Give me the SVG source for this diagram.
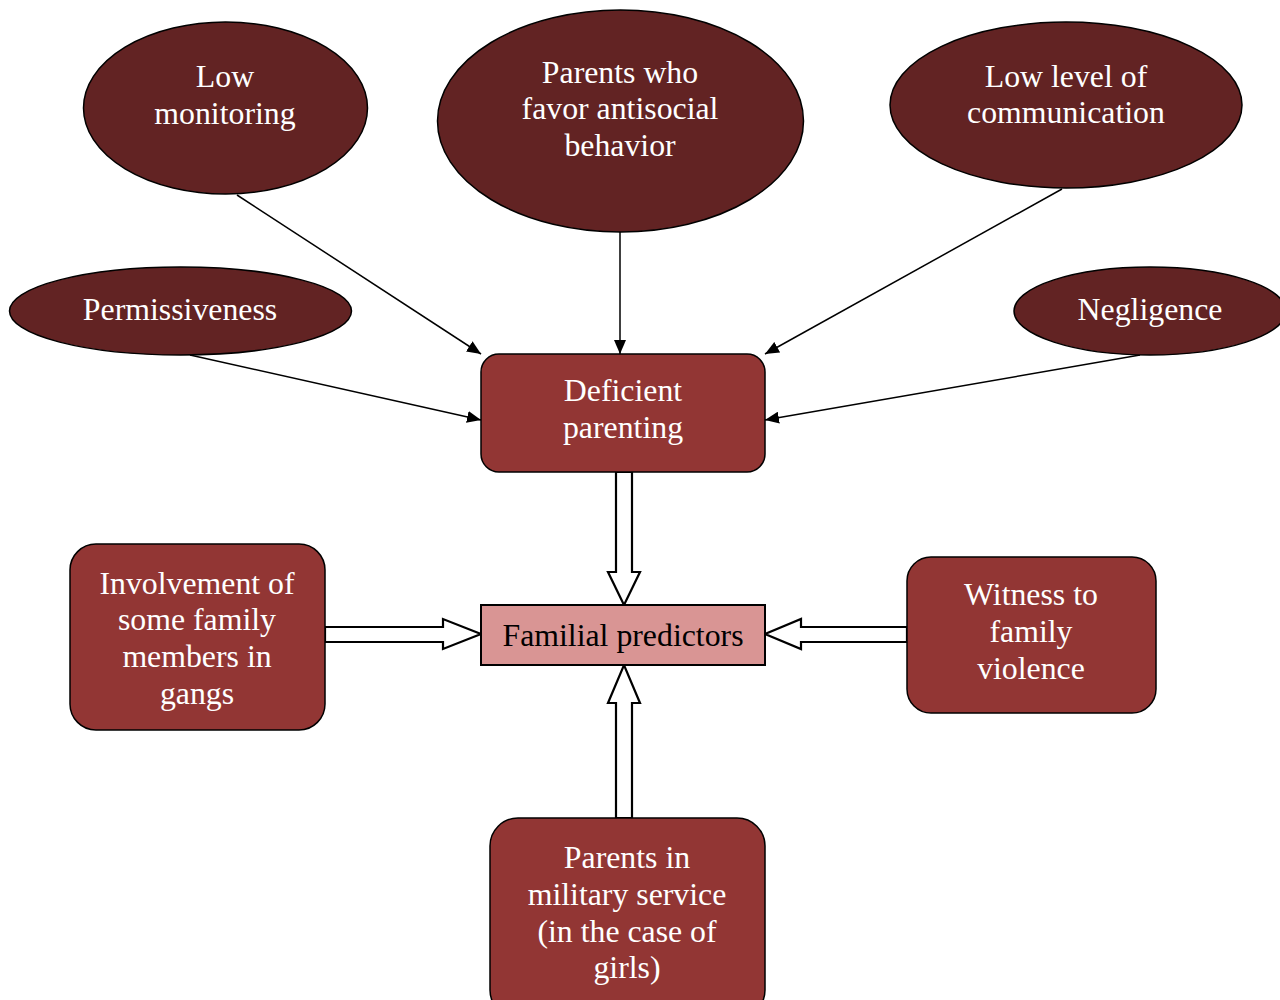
<svg xmlns="http://www.w3.org/2000/svg" width="1280" height="1000" viewBox="0 0 1280 1000">
<defs>
<style>
.ell{fill:#622323;stroke:#000;stroke-width:1.5}
.box{fill:#923634;stroke:#000;stroke-width:1.5}
.main{fill:#d99594;stroke:#000;stroke-width:2}
.t{font-family:"Liberation Serif",serif;font-size:31.8px;fill:#fff;text-anchor:middle}
.tb{fill:#000}
.ln{stroke:#000;stroke-width:1.5;fill:none}
.blk{fill:#fff;stroke:#000;stroke-width:2.2;stroke-linejoin:miter}
</style>
<marker id="ah" markerWidth="14" markerHeight="12" refX="14" refY="6" orient="auto" markerUnits="userSpaceOnUse">
<path d="M0,0 L14,6 L0,12 Z" fill="#000"/>
</marker>
</defs>
<rect width="1280" height="1000" fill="#fff"/>
<g id="connectors">
<line class="ln" x1="237" y1="195" x2="481" y2="354" marker-end="url(#ah)"/>
<line class="ln" x1="620" y1="232" x2="620" y2="354" marker-end="url(#ah)"/>
<line class="ln" x1="1062" y1="189" x2="765" y2="354" marker-end="url(#ah)"/>
<line class="ln" x1="190" y1="355" x2="481" y2="420" marker-end="url(#ah)"/>
<line class="ln" x1="1140" y1="355" x2="765" y2="420" marker-end="url(#ah)"/>
<path class="blk" d="M616,472 L632,472 L632,572 L640,572 L624,605 L608,572 L616,572 Z"/>
<path class="blk" d="M325,627 L443,627 L443,619 L481,634 L443,649 L443,642 L325,642 Z"/>
<path class="blk" d="M907,627 L801,627 L801,619 L765,634 L801,649 L801,642 L907,642 Z"/>
<path class="blk" d="M616,818 L616,703 L608,703 L624,665 L640,703 L632,703 L632,818 Z"/>
</g>
<g id="low-monitoring">
<ellipse class="ell" cx="225.5" cy="108" rx="142" ry="86"/>
<text class="t" x="225" y="87">Low</text>
<text class="t" x="225" y="124">monitoring</text>
</g>
<g id="parents-favor">
<ellipse class="ell" cx="620.5" cy="121" rx="183" ry="111"/>
<text class="t" x="620" y="83">Parents who</text>
<text class="t" x="620" y="119">favor antisocial</text>
<text class="t" x="620" y="156">behavior</text>
</g>
<g id="low-communication">
<ellipse class="ell" cx="1066" cy="105" rx="176" ry="83"/>
<text class="t" x="1066" y="87">Low level of</text>
<text class="t" x="1066" y="123">communication</text>
</g>
<g id="permissiveness">
<ellipse class="ell" cx="180.5" cy="311" rx="171" ry="44"/>
<text class="t" x="180" y="320">Permissiveness</text>
</g>
<g id="negligence">
<ellipse class="ell" cx="1150" cy="311" rx="136" ry="44"/>
<text class="t" x="1150" y="320">Negligence</text>
</g>
<g id="deficient-parenting">
<rect class="box" x="481" y="354" width="284" height="118" rx="18"/>
<text class="t" x="623" y="401">Deficient</text>
<text class="t" x="623" y="438">parenting</text>
</g>
<g id="familial-predictors">
<rect class="main" x="481" y="605" width="284" height="60"/>
<text class="t tb" x="623" y="646">Familial predictors</text>
</g>
<g id="involvement">
<rect class="box" x="70" y="544" width="255" height="186" rx="26"/>
<text class="t" x="197" y="594">Involvement of</text>
<text class="t" x="197" y="630">some family</text>
<text class="t" x="197" y="667">members in</text>
<text class="t" x="197" y="704">gangs</text>
</g>
<g id="witness">
<rect class="box" x="907" y="557" width="249" height="156" rx="24"/>
<text class="t" x="1031" y="605">Witness to</text>
<text class="t" x="1031" y="642">family</text>
<text class="t" x="1031" y="679">violence</text>
</g>
<g id="military">
<rect class="box" x="490" y="818" width="275" height="200" rx="28"/>
<text class="t" x="627" y="868">Parents in</text>
<text class="t" x="627" y="905">military service</text>
<text class="t" x="627" y="942">(in the case of</text>
<text class="t" x="627" y="978">girls)</text>
</g>
</svg>
